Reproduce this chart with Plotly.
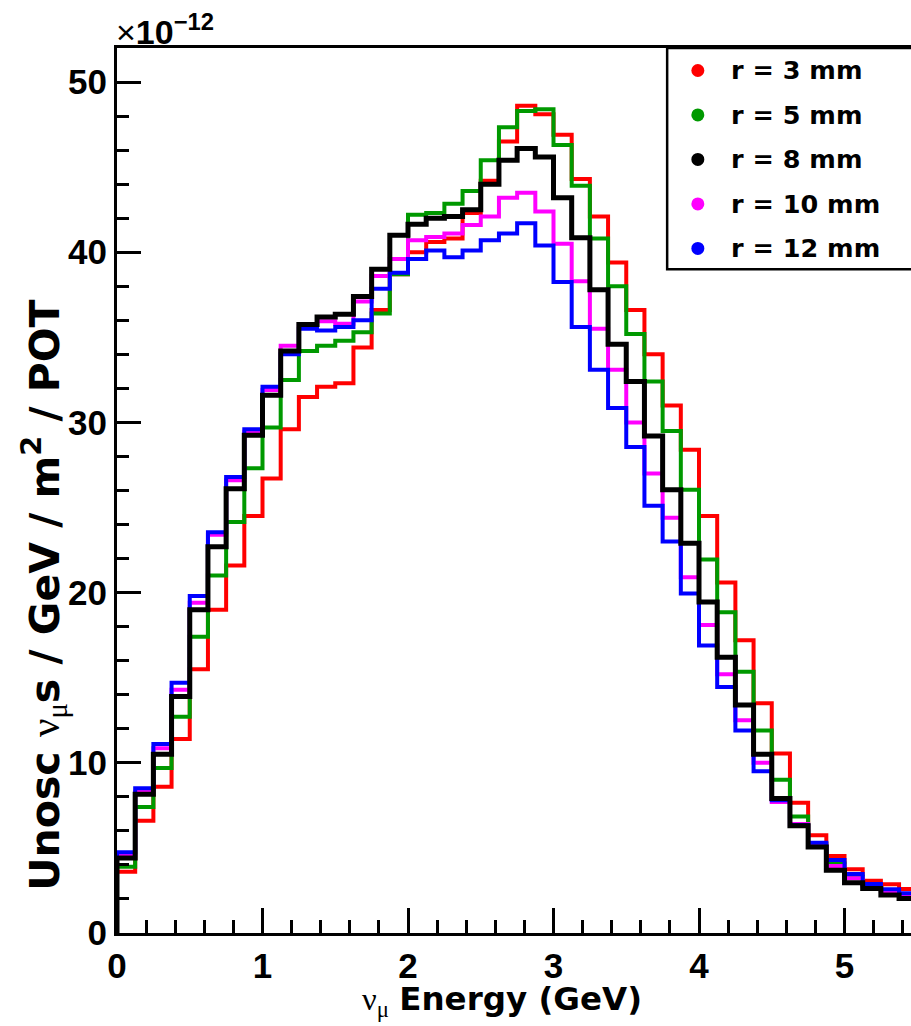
import plotly.graph_objects as go

# Bin edges (GeV), 0.125 GeV bins
bin_edges = [0.0, 0.125, 0.25, 0.375, 0.5, 0.625, 0.75, 0.875, 1.0, 1.125, 1.25, 1.375,
             1.5, 1.625, 1.75, 1.875, 2.0, 2.125, 2.25, 2.375, 2.5, 2.625, 2.75, 2.875,
             3.0, 3.125, 3.25, 3.375, 3.5, 3.625, 3.75, 3.875, 4.0, 4.125, 4.25, 4.375,
             4.5, 4.625, 4.75, 4.875, 5.0, 5.125, 5.25, 5.375, 5.5]

# Flux values in units of 1e-12 nu_mu / GeV / m^2 / POT
r3 = [3.6, 6.6, 8.6, 11.4, 15.5, 19.0, 21.6, 24.5, 26.7, 29.6, 31.5, 32.1,
      32.3, 34.4, 36.6, 38.7, 40.0, 40.6, 40.8, 42.3, 44.2, 46.5, 48.6, 48.1,
      46.9, 44.3, 42.1, 39.4, 36.6, 34.0, 31.0, 28.4, 24.5, 20.6, 17.2, 13.5,
      10.55, 7.65, 5.75, 4.52, 3.75, 3.07, 2.87, 2.58]
r5 = [3.9, 7.4, 9.7, 12.7, 17.4, 21.0, 24.15, 27.3, 29.7, 32.5, 34.2, 34.5,
      34.8, 35.3, 36.4, 38.7, 42.2, 42.3, 42.85, 43.6, 45.4, 47.35, 48.3, 48.4,
      46.3, 43.9, 40.8, 38.0, 35.2, 32.4, 29.5, 26.05, 21.95, 18.85, 15.35, 11.9,
      9.0, 6.85, 5.25, 4.09, 3.3, 2.8, 2.5, 2.25]
r8 = [4.4, 8.15, 10.5, 13.9, 19.0, 22.7, 26.1, 29.25, 31.6, 34.2, 35.75, 36.2,
      36.35, 37.4, 39.0, 41.0, 41.65, 42.0, 42.1, 42.5, 44.0, 45.4, 46.1, 45.6,
      43.2, 40.85, 37.8, 34.6, 32.4, 29.2, 26.05, 22.9, 19.45, 16.2, 13.4, 10.5,
      7.9, 6.3, 5.05, 3.68, 2.95, 2.62, 2.23, 2.02]
r10 = [4.6, 8.3, 10.85, 14.3, 19.4, 23.4, 26.6, 29.45, 31.9, 34.5, 35.7, 35.95,
       35.8, 37.1, 38.6, 39.6, 40.7, 40.9, 41.1, 41.6, 42.1, 43.2, 43.5, 42.4,
       40.5, 38.3, 35.5, 33.1, 30.0, 27.0, 24.4, 20.9, 18.1, 15.2, 12.5, 10.0,
       7.7, 6.4, 5.2, 3.93, 3.21, 2.75, 2.45, 2.2]
r12 = [4.75, 8.5, 11.1, 14.7, 19.8, 23.55, 26.8, 29.6, 32.1, 34.0, 35.5, 35.4,
       35.6, 36.0, 37.85, 38.8, 39.6, 40.1, 39.7, 40.1, 40.7, 41.1, 41.7, 40.4,
       38.25, 35.6, 33.1, 30.85, 28.55, 25.1, 23.0, 19.95, 16.9, 14.45, 11.9, 9.5,
       7.8, 6.35, 5.3, 4.29, 3.46, 2.88, 2.57, 2.33]

series_labels = ["r = 3 mm", "r = 5 mm", "r = 8 mm", "r = 10 mm", "r = 12 mm"]
series_values = [r3, r5, r8, r10, r12]
series_colors = ["#ff0000", "#009900", "#000000", "#ff00ff", "#0000ff"]
series_widths = [4, 4, 5, 4, 4]
draw_order = [0, 1, 3, 4, 2]

x_range = [0, 5.457]
y_range = [0, 52.0]
y_ticks = [0, 10, 20, 30, 40, 50]
x_ticks = [0, 1, 2, 3, 4, 5]

W, H = 911, 1026
ML, MR, MT, MB = 116.5, 0, 47.5, 93
PW, PH = W - ML - MR, H - MT - MB

def px_to_paper(px, py):
    return (px - ML) / PW, (H - MB - py) / PH

fig = go.Figure()
for i in draw_order:
    vals = series_values[i]
    xs = [bin_edges[0]] + bin_edges[:-1] + [bin_edges[-1]]
    ys = [0] + vals + [vals[-1]]
    fig.add_trace(go.Scatter(x=xs, y=ys, mode="lines", line_shape="hv",
                             line=dict(color=series_colors[i], width=series_widths[i]),
                             name=series_labels[i], showlegend=False, hoverinfo="skip"))

tick_font = "Liberation Sans, Arial, sans-serif"
title_font = "DejaVu Sans, sans-serif"
greek = "<span style=\"font-family:'Liberation Serif',serif\">%s</span>"

fig.update_layout(
    width=W, height=H,
    margin=dict(l=ML, r=MR, t=MT, b=MB, pad=0),
    plot_bgcolor="white", paper_bgcolor="white",
    showlegend=False,
    font=dict(family=tick_font, color="black"),
)
fig.update_xaxes(range=x_range, tickvals=x_ticks, ticktext=[str(t) for t in x_ticks],
                 showgrid=False, zeroline=False, showline=True, linecolor="black",
                 linewidth=3, mirror=True, ticks="inside", ticklen=25, tickwidth=2.5,
                 tickcolor="black",
                 minor=dict(ticks="inside", ticklen=13, tickwidth=2.5, dtick=0.2,
                            tickcolor="black", showgrid=False),
                 tickfont=dict(size=35, family=tick_font, weight="bold"))
fig.update_yaxes(range=y_range, tickvals=y_ticks, ticktext=[str(t) for t in y_ticks],
                 showgrid=False, zeroline=False, showline=True, linecolor="black",
                 linewidth=3, mirror=False, ticks="inside", ticklen=24, tickwidth=2.5,
                 tickcolor="black",
                 minor=dict(ticks="inside", ticklen=12, tickwidth=2.5, dtick=2,
                            tickcolor="black", showgrid=False),
                 tickfont=dict(size=35, family=tick_font, weight="bold"))

# Axis titles
ax, ay = px_to_paper(502, 1001)
fig.add_annotation(xref="paper", yref="paper", x=ax, y=ay, xanchor="center", yanchor="middle",
                   text=(greek % "ν") + "<sub>" + (greek % "μ") + "</sub> <b>Energy (GeV)</b>",
                   showarrow=False, font=dict(size=32.5, family=title_font, color="black"))
ax, ay = px_to_paper(43, 595)
fig.add_annotation(xref="paper", yref="paper", x=ax, y=ay, xanchor="center", yanchor="middle",
                   textangle=-90,
                   text="<b>Unosc </b>" + (greek % "ν") + "<sub>" + (greek % "μ") + "</sub>"
                        + "<b>s / GeV / m<sup>2</sup> / POT</b>",
                   showarrow=False, font=dict(size=41, family=title_font, color="black"))
# exponent
ax, ay = px_to_paper(113, 53)
fig.add_annotation(xref="paper", yref="paper", x=ax, y=ay, xanchor="left", yanchor="bottom",
                   text="×<b>10</b><sup><b>−12</b></sup>", showarrow=False,
                   font=dict(size=34, family=tick_font, color="black"))

# Legend box
x0, y1 = px_to_paper(667, 47.5)
x1, y0 = px_to_paper(915, 269)
fig.add_shape(type="rect", xref="paper", yref="paper", x0=x0, x1=x1, y0=y0, y1=y1,
              line=dict(color="black", width=2.5), fillcolor="white")
for i, lab in enumerate(series_labels):
    py = 70 + 44.5 * i
    cx, cy = px_to_paper(697.7, py)
    rx, ry = 6.5 / PW, 6.5 / PH
    fig.add_shape(type="circle", xref="paper", yref="paper",
                  x0=cx - rx, x1=cx + rx, y0=cy - ry, y1=cy + ry,
                  line=dict(color=series_colors[i], width=0), fillcolor=series_colors[i])
    tx, ty = px_to_paper(729, py)
    fig.add_annotation(xref="paper", yref="paper", x=tx, y=ty, xanchor="left", yanchor="middle",
                       text="<b>" + lab + "</b>", showarrow=False,
                       font=dict(size=25.5, family=title_font, color="black"))

fig.write_html("out.html")
